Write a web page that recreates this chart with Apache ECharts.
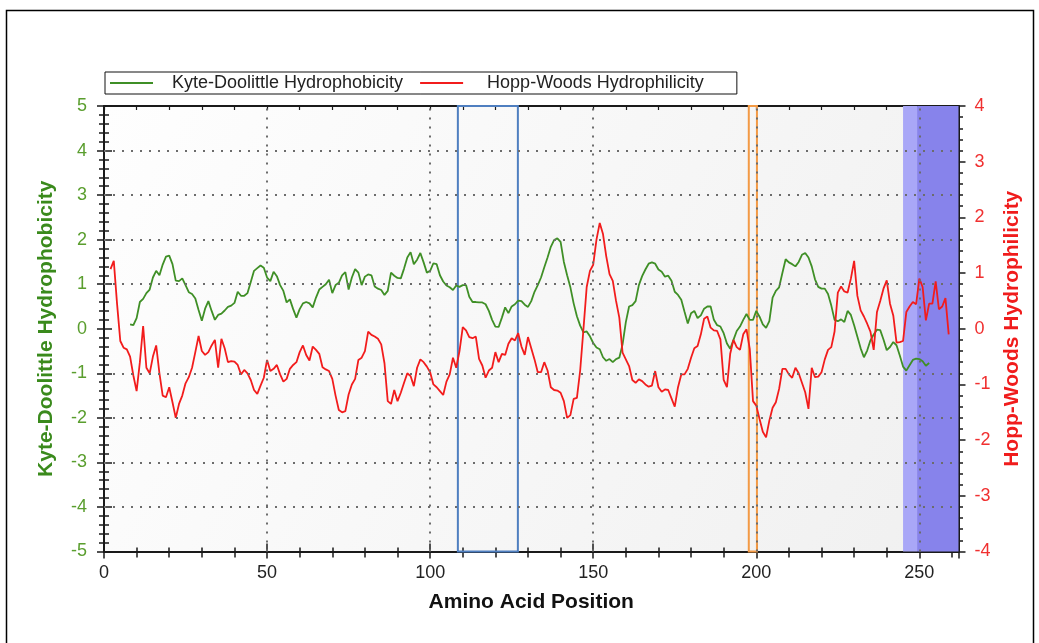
<!DOCTYPE html>
<html>
<head>
<meta charset="utf-8">
<script src="https://cdn.jsdelivr.net/npm/echarts@6/dist/echarts.min.js"></script>
<style>
  html, body { margin: 0; padding: 0; background: #ffffff; }
  #chart { width: 1039px; height: 643px; }
</style>
</head>
<body>
<div id="chart"></div>
<script>
// Hydropathy profiles along the sequence (residue position -> window score)
const seriesNames = ['Kyte-Doolittle Hydrophobicity', 'Hopp-Woods Hydrophilicity'];

// Kyte-Doolittle, first value at residue 8
const kdStart = 8;
const kdValues = [
  0.1, 0.08, 0.24, 0.6, 0.67, 0.8, 0.88, 1.15, 1.3, 1.2,
  1.44, 1.62, 1.64, 1.45, 1.08, 1.07, 1.13, 0.98, 0.82, 0.78,
  0.68, 0.42, 0.18, 0.45, 0.62, 0.4, 0.2, 0.31, 0.34, 0.41,
  0.49, 0.52, 0.58, 0.83, 0.74, 0.74, 0.8, 1.05, 1.3, 1.36,
  1.42, 1.37, 1.15, 1.07, 1.28, 1.18, 0.98, 0.85, 0.59, 0.66,
  0.44, 0.25, 0.44, 0.57, 0.6, 0.57, 0.48, 0.7, 0.88, 0.94,
  1.0, 1.1, 0.8, 0.98, 1.03, 1.2, 1.27, 0.88, 1.15, 1.34,
  1.26, 0.98, 1.17, 1.22, 1.2, 0.95, 0.9, 0.87, 0.76, 0.85,
  1.26, 1.19, 1.14, 1.13, 1.35, 1.6, 1.72, 1.45, 1.55, 1.7,
  1.49, 1.26, 1.3, 1.47, 1.45, 1.2, 1.06, 0.97, 0.93, 0.87,
  0.97, 0.94, 0.98, 0.98, 0.72, 0.6, 0.6, 0.59, 0.59, 0.55,
  0.4, 0.2, 0.05, 0.04, 0.25, 0.48, 0.35, 0.5, 0.55, 0.63,
  0.62, 0.54, 0.49, 0.62, 0.83, 0.98, 1.15, 1.38, 1.6, 1.84,
  1.99, 2.03, 1.95, 1.5, 1.2, 0.93, 0.57, 0.28, 0.07, -0.08,
  -0.06, -0.17, -0.32, -0.42, -0.46, -0.64, -0.72, -0.68, -0.75, -0.68,
  -0.65, -0.35, 0.15, 0.5, 0.53, 0.62, 0.98, 1.18, 1.33, 1.46,
  1.49, 1.46, 1.33, 1.28, 1.17, 1.19, 1.08, 0.83, 0.76, 0.65,
  0.38, 0.12, 0.35, 0.4, 0.24, 0.3, 0.45, 0.5, 0.5, 0.2,
  0.08, 0.05, -0.1, -0.33, -0.45, -0.25, -0.05, 0.05, 0.2, 0.33,
  0.2, 0.2, 0.4, 0.27, 0.1, 0.02, 0.17, 0.7, 0.85, 0.93,
  1.25, 1.56, 1.49, 1.45, 1.4, 1.5, 1.66, 1.7, 1.6, 1.4,
  1.11, 0.94, 0.9, 0.9, 0.78, 0.52, 0.2, 0.17, 0.21, 0.15,
  0.4, 0.31, 0.08, -0.18, -0.44, -0.64, -0.49, -0.26, -0.13, -0.02,
  -0.03, -0.24, -0.48, -0.41, -0.3, -0.37, -0.6, -0.85, -0.94, -0.82,
  -0.7, -0.67, -0.68, -0.73, -0.83, -0.77
];

// Hopp-Woods, first value at residue 2
const hwStart = 2;
const hwValues = [
  1.07, 1.22, 0.45, -0.22, -0.34, -0.37, -0.5, -0.84, -1.12, -0.6,
  0.05, -0.7, -0.8, -0.5, -0.3, -0.8, -1.2, -1.23, -1.05, -1.32,
  -1.6, -1.35, -1.2, -0.98, -0.87, -0.7, -0.42, -0.13, -0.4, -0.47,
  -0.42, -0.3, -0.2, -0.7, -0.18, -0.35, -0.6, -0.58, -0.59, -0.65,
  -0.82, -0.74, -0.8, -0.92, -1.1, -1.17, -1.02, -0.88, -0.56, -0.76,
  -0.72, -0.65, -0.82, -0.95, -0.9, -0.72, -0.65, -0.6, -0.42, -0.3,
  -0.47, -0.57, -0.32, -0.38, -0.45, -0.69, -0.73, -0.76, -0.9, -1.2,
  -1.46, -1.5, -1.48, -1.18, -1.0, -0.9, -0.56, -0.52, -0.4, -0.05,
  -0.11, -0.14, -0.18, -0.28, -0.62, -1.3, -1.35, -1.1, -1.3, -1.15,
  -0.97, -0.8, -0.85, -1.03, -0.7, -0.55, -0.6, -0.68, -0.78, -1.0,
  -1.05, -1.12, -1.19, -0.95, -0.82, -0.52, -0.7, -0.4, 0.03, -0.03,
  -0.15, -0.17, -0.14, -0.54, -0.66, -0.88, -0.75, -0.7, -0.42, -0.6,
  -0.45, -0.47, -0.27, -0.17, -0.21, -0.08, -0.32, -0.47, -0.15, -0.35,
  -0.55, -0.78, -0.78, -0.6, -0.75, -1.05, -1.1, -1.11, -1.15, -1.3,
  -1.6, -1.55, -1.26, -1.24, -0.75, -0.01, 0.75, 1.04, 1.15, 1.6,
  1.9, 1.7, 1.3, 0.98, 0.86, 0.5, 0.2, -0.43, -0.55, -0.67,
  -0.92, -0.97, -0.91, -0.94, -1.0, -1.04, -1.02, -0.76, -1.05, -1.13,
  -1.09, -1.1, -1.25, -1.4, -1.05, -0.82, -0.82, -0.72, -0.52, -0.35,
  -0.31, -0.1, 0.18, 0.22, 0.02, -0.03, -0.04, -0.19, -0.92, -1.05,
  -0.45, -0.2, -0.33, -0.38, -0.1, -0.01, -0.36, -1.3, -1.38, -1.62,
  -1.85, -1.95, -1.65, -1.42, -1.32, -1.08, -0.72, -0.72, -0.82, -0.88,
  -0.7, -0.8, -0.97, -1.14, -1.44, -0.7, -0.87, -0.86, -0.78, -0.55,
  -0.38, -0.33, -0.05, 0.65, 0.76, 0.67, 0.65, 0.9, 1.22, 0.59,
  0.33, 0.22, 0.09, -0.05, -0.38, 0.3, 0.5, 0.72, 0.87, 0.45,
  0.24, -0.25, -0.24, -0.22, 0.3, 0.4, 0.48, 0.44, 0.9, 0.75,
  0.15, 0.45, 0.45, 0.85, 0.35, 0.4, 0.55, -0.1
];

// Axis ranges and reference lines
const positionMax = 262;
const positionGrid = [50, 100, 150, 200, 250];
const kdGrid = [-4, -3, -2, -1, 1, 2, 3, 4];

// Highlighted residue ranges
const shadedRanges = [[245, 249.3], [249.3, 262]];
const blueRange = [108.5, 126.9];
const orangeRange = [197.7, 200.2];

const FONT = '"Liberation Sans", Arial, Helvetica, sans-serif';
const AXIS_COLOR = '#1a1a1a';
const KD_COLOR = '#3f8f26';
const HW_COLOR = '#f21c1c';

const kdData = kdValues.map((v, i) => [kdStart + i, v]);
const hwData = hwValues.map((v, i) => [hwStart + i, v]);

// Helper axes that only draw tick marks (used to get ticks crossing the axis line)
function tickOnlyAxis(opts) {
  return Object.assign({
    type: 'value',
    axisLine: { show: false, onZero: false },
    axisLabel: { show: false },
    splitLine: { show: false },
    axisTick: { show: true, lineStyle: { color: AXIS_COLOR, width: 1.5 } },
    silent: true
  }, opts);
}

const chart = echarts.init(document.getElementById('chart'), null, { renderer: 'canvas' });

chart.setOption({
  animation: false,
  backgroundColor: '#ffffff',
  textStyle: { fontFamily: FONT },
  graphic: [{
    type: 'rect',
    silent: true,
    shape: { x: 6.5, y: 10.5, width: 1027, height: 700 },
    style: { fill: 'none', stroke: '#000', lineWidth: 1.5 }
  }],
  legend: {
    left: 105,
    top: 72,
    orient: 'horizontal',
    selectedMode: false,
    icon: 'rect',
    itemWidth: 43,
    itemHeight: 2,
    itemGap: 17,
    padding: [2, 33, 2, 5],
    borderColor: '#111',
    borderWidth: 1,
    textStyle: { fontSize: 18, color: '#222', fontFamily: FONT },
    data: [
      { name: seriesNames[0], textStyle: { padding: [0, 0, 0, 14] } },
      { name: seriesNames[1], textStyle: { padding: [0, 0, 0, 19] } }
    ]
  },
  grid: {
    left: 104,
    right: 80.5,
    top: 106,
    bottom: 91.5,
    show: true,
    borderWidth: 0,
    backgroundColor: {
      type: 'linear', x: 0, y: 0, x2: 1, y2: 1,
      colorStops: [{ offset: 0, color: '#fefefe' }, { offset: 1, color: '#f0f0f0' }]
    }
  },
  xAxis: [
    {
      type: 'value', position: 'bottom', min: 0, max: positionMax, interval: 50,
      axisLine: { onZero: false, lineStyle: { color: AXIS_COLOR, width: 2 } },
      axisTick: { show: false },
      splitLine: { show: false },
      axisLabel: {
        fontSize: 18, color: '#222', margin: 13, fontFamily: FONT,
        formatter: v => (v % 50 === 0 ? String(v) : '')
      },
      name: 'Amino Acid Position',
      nameLocation: 'middle',
      nameGap: 40,
      nameTextStyle: { fontSize: 21, fontWeight: 'bold', color: '#111', fontFamily: FONT }
    },
    tickOnlyAxis({ position: 'bottom', min: 0, max: positionMax, interval: 50, offset: -8,
      axisTick: { show: true, length: 15, lineStyle: { color: AXIS_COLOR, width: 1.5 } } }),
    tickOnlyAxis({ position: 'bottom', min: 0, max: positionMax, interval: 10, offset: -4,
      axisTick: { show: true, length: 10, lineStyle: { color: AXIS_COLOR, width: 1.5 } } }),
    tickOnlyAxis({ position: 'top', min: 0, max: positionMax, interval: 10,
      axisLine: { show: true, onZero: false, lineStyle: { color: AXIS_COLOR, width: 2 } },
      axisTick: { show: true, inside: true, length: 4, lineStyle: { color: AXIS_COLOR, width: 1.2 } } })
  ],
  yAxis: [
    {
      type: 'value', position: 'left', min: -5, max: 5, interval: 1,
      axisLine: { show: true, onZero: false, lineStyle: { color: AXIS_COLOR, width: 2 } },
      axisTick: { show: false },
      splitLine: { show: false },
      axisLabel: { fontSize: 18, color: '#5a9e2e', margin: 17, fontFamily: FONT },
      name: seriesNames[0],
      nameLocation: 'middle',
      nameRotate: 90,
      nameGap: 47,
      nameTextStyle: { fontSize: 21, fontWeight: 'bold', color: '#3a8a1c', fontFamily: FONT }
    },
    {
      type: 'value', position: 'right', min: -4, max: 4, interval: 1,
      axisLine: { show: true, onZero: false, lineStyle: { color: AXIS_COLOR, width: 2 } },
      axisTick: { show: false },
      splitLine: { show: false },
      axisLabel: { fontSize: 18, color: '#f03030', margin: 16, fontFamily: FONT },
      name: seriesNames[1],
      nameLocation: 'middle',
      nameRotate: 90,
      nameGap: 40,
      nameTextStyle: { fontSize: 21, fontWeight: 'bold', color: '#f01c1c', fontFamily: FONT }
    },
    tickOnlyAxis({ position: 'left', min: -5, max: 5, interval: 1, offset: -8,
      axisTick: { show: true, length: 15, lineStyle: { color: AXIS_COLOR, width: 1.5 } } }),
    tickOnlyAxis({ position: 'left', min: -5, max: 5, interval: 0.2, offset: -5,
      axisTick: { show: true, length: 10, lineStyle: { color: AXIS_COLOR, width: 1.5 } } }),
    tickOnlyAxis({ position: 'right', min: -4, max: 4, interval: 1, offset: -7,
      axisTick: { show: true, length: 14, lineStyle: { color: AXIS_COLOR, width: 1.5 } } }),
    tickOnlyAxis({ position: 'right', min: -4, max: 4, interval: 0.2, offset: -4.5,
      axisTick: { show: true, length: 9, lineStyle: { color: AXIS_COLOR, width: 1.5 } } })
  ],
  series: [
    {
      // shaded C-terminal region
      name: 'shade', type: 'line', data: [], xAxisIndex: 0, yAxisIndex: 0, z: 0,
      markArea: {
        silent: true,
        data: shadedRanges.map((r, i) => [
          { xAxis: r[0], itemStyle: { color: i === 0 ? '#a9a7f7' : '#8783eb' } },
          { xAxis: r[1] }
        ])
      }
    },
    {
      // dotted reference grid
      name: 'grid', type: 'line', data: [], xAxisIndex: 0, yAxisIndex: 0, z: 1,
      markLine: {
        silent: true,
        symbol: ['none', 'none'],
        label: { show: false },
        lineStyle: { type: [2, 7], color: '#6c6c6c', width: 2 },
        emphasis: { disabled: true },
        data: kdGrid.map(v => ({ yAxis: v })).concat(positionGrid.map(v => ({ xAxis: v })))
      }
    },
    {
      name: seriesNames[0], type: 'line', data: kdData, xAxisIndex: 0, yAxisIndex: 0, z: 2,
      showSymbol: false, symbol: 'none',
      itemStyle: { color: KD_COLOR },
      lineStyle: { color: KD_COLOR, width: 1.8 }
    },
    {
      name: seriesNames[1], type: 'line', data: hwData, xAxisIndex: 0, yAxisIndex: 1, z: 2,
      showSymbol: false, symbol: 'none',
      itemStyle: { color: HW_COLOR },
      lineStyle: { color: HW_COLOR, width: 1.8 }
    },
    {
      // outlined residue windows
      name: 'windows', type: 'line', data: [], xAxisIndex: 0, yAxisIndex: 0, z: 3,
      markArea: {
        silent: true,
        data: [
          [{ xAxis: blueRange[0], itemStyle: { color: 'rgba(0,0,0,0)', borderColor: '#4f7fc0', borderWidth: 2 } },
           { xAxis: blueRange[1] }],
          [{ xAxis: orangeRange[0], itemStyle: { color: 'rgba(0,0,0,0)', borderColor: '#f39a45', borderWidth: 2 } },
           { xAxis: orangeRange[1] }]
        ]
      }
    }
  ]
});
</script>
</body>
</html>
